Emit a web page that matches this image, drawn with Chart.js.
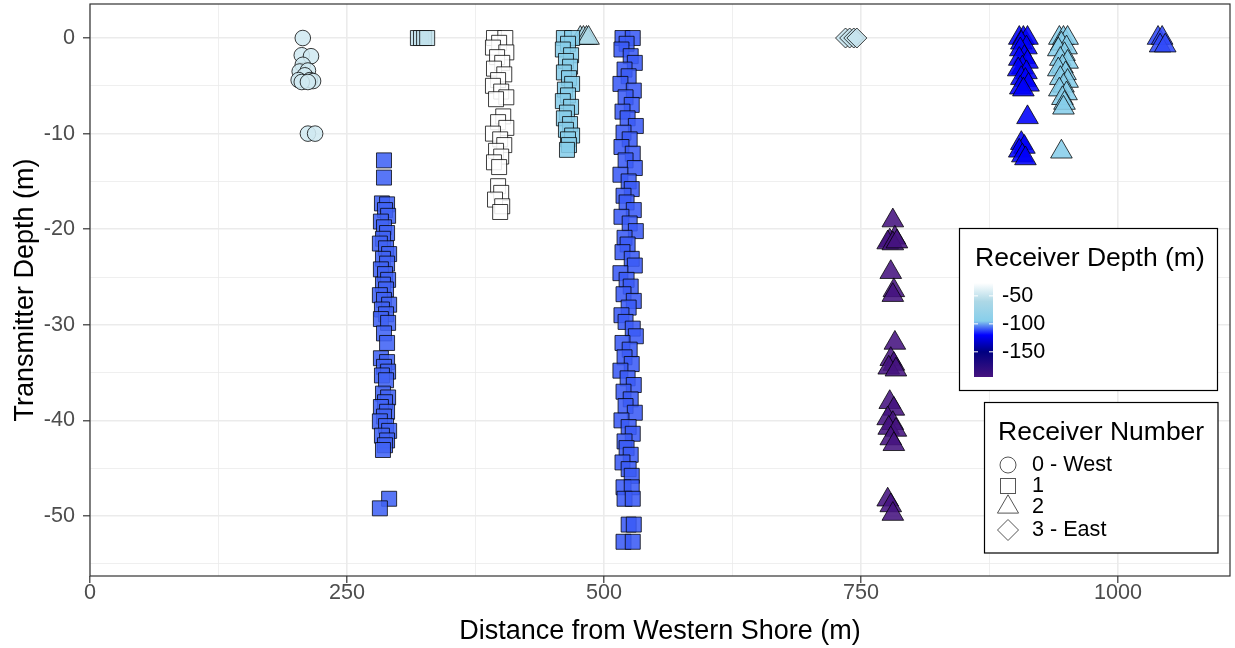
<!DOCTYPE html>
<html>
<head>
<meta charset="utf-8">
<script src="https://cdn.jsdelivr.net/npm/chart.js@4.4.1/dist/chart.umd.min.js"></script>
<style>
  html, body { margin: 0; padding: 0; background: #ffffff; }
  #wrap { width: 1235px; height: 648px; }
</style>
</head>
<body>
<div id="wrap"><canvas id="c" width="1235" height="648"></canvas></div>
<script>
// ---- axis ticks and legend labels ----
const xTicks = [0, 250, 500, 750, 1000];
const xMinor = [125, 375, 625, 875];
const yTicks = [0, -10, -20, -30, -40, -50];
const yMinor = [-5, -15, -25, -35, -45, -55];
const depthTicks = [-50, -100, -150];
const depthLimits = [-195, -27];
const receiverLabels = ['0 - West', '1', '2', '3 - East'];

// ---- receiver 0 (west), circles ----
const r0aDepth = -46;
const r0aDist = [207, 206, 215, 207, 204, 212, 209, 203, 214, 217, 206, 212, 212, 219];
const r0aTx   = [0, -1.8, -1.9, -2.8, -3.5, -3.4, -3.9, -4.4, -4.4, -4.5, -4.6, -4.6, -10.0, -10.0];

// ---- receiver 1, squares ----
const r1aDepth = -52;
const r1aDist = [319, 322, 325, 328];
const r1aTx   = [0, 0, 0, 0];

const r1bDepth = -27;
const r1bDist = [393, 404, 398, 392, 405, 396, 401, 393, 403, 397, 392, 400, 405, 395, 402, 397, 405, 392, 399, 403, 395, 400, 393, 398, 397, 400, 394, 401, 399];
const r1bTx   = [0, 0, -0.5, -1.0, -1.5, -2.0, -2.6, -3.2, -3.8, -4.4, -5.0, -5.6, -6.2, -6.4, -8.2, -8.8, -9.4, -10.0, -10.6, -11.2, -11.8, -12.4, -13.0, -13.5, -15.5, -16.2, -16.9, -17.6, -18.2];

const r1cDepth = -95;
const r1cDist = [461, 469, 465, 460, 468, 463, 467, 461, 466, 469, 462, 465, 460, 468, 464, 461, 467, 463, 469, 465, 466, 464];
const r1cTx   = [0, 0, -0.6, -1.2, -1.8, -2.4, -3.0, -3.6, -4.2, -4.8, -5.4, -6.0, -6.6, -7.2, -7.8, -8.4, -9.0, -9.6, -10.2, -10.6, -11.2, -11.7];

const r1dDepth = -108;
const r1dDist = [286, 286, 284, 289, 287, 290, 283, 286, 289, 285, 282, 288, 291, 285, 289, 283, 287, 290, 285, 288, 282, 286, 291, 284, 288, 283, 290, 286, 289, 283, 289, 286, 290, 284, 288, 285, 290, 287, 283, 289, 286, 282, 288, 291, 284, 289, 287, 285, 291, 282];
const r1dTx   = [-12.8, -14.6, -17.3, -17.4, -18.0, -18.6, -19.2, -19.8, -20.4, -21.0, -21.5, -22.0, -22.6, -23.1, -23.6, -24.2, -24.7, -25.3, -25.8, -26.3, -26.9, -27.4, -27.9, -28.4, -28.9, -29.4, -29.8, -30.9, -31.9, -33.5, -33.9, -34.4, -34.9, -35.3, -35.8, -37.2, -37.6, -38.1, -38.6, -39.1, -39.6, -40.1, -40.6, -41.1, -41.6, -42.1, -42.6, -43.1, -48.2, -49.2];

const r1eDepth = -109;
const r1eDist = [518, 528, 522, 517, 526, 530, 520, 524, 516, 529, 521, 527, 518, 523, 531, 519, 525, 517, 528, 521, 530, 516, 524, 527, 519, 522, 529, 517, 525, 531, 520, 523, 518, 527, 530, 516, 522, 526, 519, 529, 524, 517, 521, 528, 531, 518, 525, 520, 527, 516, 523, 529, 519, 526, 521, 530, 517, 524, 528, 520, 522, 526, 518, 524, 527, 519, 527, 520, 528, 524, 529, 519, 528];
const r1eTx   = [0, 0, -0.6, -1.2, -1.9, -2.6, -3.3, -4.0, -4.8, -5.5, -6.2, -7.0, -7.7, -8.4, -9.2, -9.9, -10.6, -11.4, -12.1, -12.8, -13.6, -14.3, -15.0, -15.8, -16.5, -17.2, -18.0, -18.7, -19.4, -20.2, -20.9, -21.6, -22.4, -23.1, -23.8, -24.6, -25.3, -26.0, -26.8, -27.5, -28.2, -29.0, -29.7, -30.4, -31.2, -31.9, -32.6, -33.4, -34.1, -34.8, -35.6, -36.3, -37.0, -37.8, -38.5, -39.2, -40.0, -40.7, -41.4, -42.2, -42.9, -43.6, -44.4, -45.1, -45.8, -47.0, -47.0, -48.2, -48.2, -50.9, -50.9, -52.7, -52.7];

// ---- receiver 2, triangles ----
const r2aDepth = -60;
const r2aDist = [477, 480, 483, 485];
const r2aTx   = [0, 0, 0, 0];

const r2bDepth = -121;
const r2bDist = [904, 908, 912, 906, 911, 905, 909, 904, 912, 907, 903, 911, 906, 910, 913, 905, 908, 912, 906, 909, 904, 907, 910];
const r2bTx   = [0, 0, 0, -0.5, -1.0, -1.2, -2.0, -2.2, -2.5, -3.1, -3.3, -3.6, -4.2, -4.4, -4.9, -5.2, -5.4, -8.3, -11.0, -11.4, -11.8, -12.3, -12.6];

const r2cDepth = -95;
const r2cDist = [943, 947, 951, 945, 950, 942, 948, 944, 951, 946, 942, 949, 944, 951, 947, 943, 950, 946, 948, 947, 945];
const r2cTx   = [0, 0, 0, -0.6, -1.0, -1.2, -1.7, -2.2, -2.5, -3.0, -3.3, -3.7, -4.2, -4.5, -5.0, -5.4, -5.8, -6.3, -6.8, -7.3, -11.9];

const r2dDepth = -111;
const r2dDist = [1039, 1043, 1041, 1046];
const r2dTx   = [0, 0, -0.8, -0.8];

const r2eDepth = -195;
const r2eDist = [781, 783, 778, 776, 781, 785, 779, 782, 781, 783, 779, 782, 777, 784, 778, 782, 776, 781, 777, 784, 779, 782, 776, 779, 781];
const r2eTx   = [-19.1, -20.9, -21.2, -21.4, -21.5, -21.3, -24.5, -26.4, -26.9, -31.9, -33.6, -34.1, -34.5, -34.7, -38.1, -38.8, -39.8, -40.3, -40.8, -41.0, -41.9, -42.5, -48.3, -48.9, -49.8];

// ---- receiver 3 (east), diamonds ----
const r3aDepth = -50;
const r3aDist = [735, 739, 743, 746];
const r3aTx   = [0, 0, 0, 0];

// ---- colour scale for receiver depth ----
const stopValues = [-195, -150, -120, -95, -60, -27];
const stopColors = ['#46137f', '#000080', '#0000ff', '#87ceeb', '#add8e6', '#ffffff'];
const POINT_ALPHA = 0.88;

function hexRgb(h) {
  const n = parseInt(h.slice(1), 16);
  return [(n >> 16) & 255, (n >> 8) & 255, n & 255];
}
function depthRgb(v) {
  if (v <= stopValues[0]) return hexRgb(stopColors[0]);
  for (let i = 1; i < stopValues.length; i++) {
    if (v <= stopValues[i]) {
      const t = (v - stopValues[i - 1]) / (stopValues[i] - stopValues[i - 1]);
      const a = hexRgb(stopColors[i - 1]), b = hexRgb(stopColors[i]);
      return a.map((c, k) => Math.round(c + (b[k] - c) * t));
    }
  }
  return hexRgb(stopColors[stopColors.length - 1]);
}
function depthFill(v) {
  const [r, g, b] = depthRgb(v);
  return `rgba(${r},${g},${b},${POINT_ALPHA})`;
}

// shape per receiver number
const SHAPES = {
  0: { style: 'circle', radius: 7.8 },
  1: { style: 'rect', radius: 10.6 },
  2: { style: 'triangle', radius: 12.5 },
  3: { style: 'rectRot', radius: 10 }
};

// groups listed top-most first (dataset 0 is painted last)
const groups = [
  { rec: 1, dist: r1eDist, tx: r1eTx, depth: r1eDepth },
  { rec: 1, dist: r1dDist, tx: r1dTx, depth: r1dDepth },
  { rec: 1, dist: r1cDist, tx: r1cTx, depth: r1cDepth },
  { rec: 1, dist: r1bDist, tx: r1bTx, depth: r1bDepth },
  { rec: 1, dist: r1aDist, tx: r1aTx, depth: r1aDepth },
  { rec: 2, dist: r2aDist, tx: r2aTx, depth: r2aDepth },
  { rec: 0, dist: r0aDist, tx: r0aTx, depth: r0aDepth },
  { rec: 3, dist: r3aDist, tx: r3aTx, depth: r3aDepth },
  { rec: 2, dist: r2bDist, tx: r2bTx, depth: r2bDepth },
  { rec: 2, dist: r2cDist, tx: r2cTx, depth: r2cDepth },
  { rec: 2, dist: r2dDist, tx: r2dTx, depth: r2dDepth },
  { rec: 2, dist: r2eDist, tx: r2eTx, depth: r2eDepth }
];

const datasets = groups.map(g => ({
  label: receiverLabels[g.rec],
  data: g.dist.map((d, i) => ({ x: d, y: g.tx[i] })),
  pointStyle: SHAPES[g.rec].style,
  pointRadius: SHAPES[g.rec].radius,
  pointHoverRadius: SHAPES[g.rec].radius,
  backgroundColor: depthFill(g.depth),
  borderColor: 'rgba(0,0,0,0.85)',
  pointBorderWidth: 0.9,
  showLine: false
}));

const FONT = '"Liberation Sans", Arial, Helvetica, sans-serif';
Chart.defaults.font.family = FONT;

const isMinorX = v => xMinor.includes(v);
const isMinorY = v => yMinor.includes(v);

// fixed axis box sizes; no extra edge padding for the outer tick labels
function fixBox(s, size) {
  if (s.isHorizontal()) s.height = size; else s.width = size;
  s.paddingTop = 0; s.paddingBottom = 0; s.paddingLeft = 0; s.paddingRight = 0;
}

// panel frame and the two legends
const decor = {
  id: 'decor',
  afterDraw(chart) {
    const ctx = chart.ctx;
    const a = chart.chartArea;
    ctx.save();
    ctx.strokeStyle = '#333333';
    ctx.lineWidth = 1.2;
    ctx.strokeRect(a.left, a.top, a.right - a.left, a.bottom - a.top);

    // colourbar legend
    const b1 = { x: 959.5, y: 228.5, w: 258, h: 162 };
    ctx.fillStyle = '#ffffff';
    ctx.fillRect(b1.x, b1.y, b1.w, b1.h);
    ctx.strokeStyle = '#000000';
    ctx.lineWidth = 1.2;
    ctx.strokeRect(b1.x, b1.y, b1.w, b1.h);
    ctx.fillStyle = '#000000';
    ctx.font = `26.5px ${FONT}`;
    ctx.textBaseline = 'alphabetic';
    ctx.textAlign = 'left';
    ctx.fillText('Receiver Depth (m)', 975, 266);

    const bar = { x: 974, y: 283, w: 19, h: 94 };
    const span = depthLimits[1] - depthLimits[0];
    const grad = ctx.createLinearGradient(0, bar.y, 0, bar.y + bar.h);
    stopValues.forEach((v, i) => {
      grad.addColorStop((depthLimits[1] - v) / span, stopColors[i]);
    });
    ctx.fillStyle = grad;
    ctx.fillRect(bar.x, bar.y, bar.w, bar.h);
    ctx.font = `21.6px ${FONT}`;
    ctx.textBaseline = 'middle';
    depthTicks.forEach(v => {
      const y = bar.y + (depthLimits[1] - v) / span * bar.h;
      ctx.strokeStyle = '#ffffff';
      ctx.lineWidth = 1;
      ctx.beginPath();
      ctx.moveTo(bar.x, y); ctx.lineTo(bar.x + 4, y);
      ctx.moveTo(bar.x + bar.w - 4, y); ctx.lineTo(bar.x + bar.w, y);
      ctx.stroke();
      ctx.fillStyle = '#000000';
      ctx.fillText(String(v), 1002, y);
    });

    // shape legend
    const b2 = { x: 984.5, y: 402.5, w: 233.5, h: 150.5 };
    ctx.fillStyle = '#ffffff';
    ctx.fillRect(b2.x, b2.y, b2.w, b2.h);
    ctx.strokeStyle = '#000000';
    ctx.lineWidth = 1.2;
    ctx.strokeRect(b2.x, b2.y, b2.w, b2.h);
    ctx.fillStyle = '#000000';
    ctx.font = `26.5px ${FONT}`;
    ctx.textBaseline = 'alphabetic';
    ctx.fillText('Receiver Number', 998, 440);

    const keyY = [465, 486, 507, 530];
    const kx = 1008;
    ctx.strokeStyle = '#555555';
    ctx.lineWidth = 1;
    ctx.beginPath(); ctx.arc(kx, keyY[0], 8, 0, Math.PI * 2); ctx.stroke();
    ctx.strokeRect(kx - 7.5, keyY[1] - 7.5, 15, 15);
    const tr = 12.2;
    ctx.beginPath();
    ctx.moveTo(kx, keyY[2] - tr);
    ctx.lineTo(kx + tr * Math.sqrt(3) / 2, keyY[2] + tr / 2);
    ctx.lineTo(kx - tr * Math.sqrt(3) / 2, keyY[2] + tr / 2);
    ctx.closePath(); ctx.stroke();
    const dr = 10.5;
    ctx.beginPath();
    ctx.moveTo(kx, keyY[3] - dr); ctx.lineTo(kx + dr, keyY[3]);
    ctx.lineTo(kx, keyY[3] + dr); ctx.lineTo(kx - dr, keyY[3]);
    ctx.closePath(); ctx.stroke();

    ctx.fillStyle = '#000000';
    ctx.font = `21.6px ${FONT}`;
    ctx.textBaseline = 'middle';
    receiverLabels.forEach((t, i) => ctx.fillText(t, 1032, keyY[i]));
    ctx.restore();
  }
};

new Chart(document.getElementById('c'), {
  type: 'scatter',
  data: { datasets },
  options: {
    responsive: false,
    animation: false,
    events: [],
    layout: { autoPadding: false, padding: { left: 0, right: 5, top: 4, bottom: 0 } },
    plugins: { legend: { display: false }, tooltip: { enabled: false } },
    scales: {
      x: {
        type: 'linear',
        min: 0,
        max: 1109,
        afterBuildTicks: s => { s.ticks = [...xTicks, ...xMinor].sort((p, q) => p - q).map(v => ({ value: v })); },
        afterFit: s => fixBox(s, 72),
        ticks: {
          autoSkip: false,
          maxRotation: 0,
          padding: -3,
          color: '#4d4d4d',
          font: { size: 21.6 },
          callback: v => (isMinorX(v) ? '' : String(v))
        },
        grid: {
          color: '#ebebeb',
          lineWidth: c => (isMinorX(c.tick.value) ? 0.8 : 1.6),
          tickColor: c => (isMinorX(c.tick.value) ? 'rgba(0,0,0,0)' : '#333333'),
          tickLength: 7,
          tickWidth: 1.2
        },
        border: { display: false },
        title: {
          display: true,
          text: 'Distance from Western Shore (m)',
          color: '#000000',
          font: { size: 27 },
          padding: { top: 0, bottom: 0 }
        }
      },
      y: {
        type: 'linear',
        min: -56.28,
        max: 3.56,
        afterBuildTicks: s => { s.ticks = [...yTicks, ...yMinor].sort((p, q) => p - q).map(v => ({ value: v })); },
        afterFit: s => fixBox(s, 90),
        ticks: {
          autoSkip: false,
          padding: 8,
          color: '#4d4d4d',
          font: { size: 21.6 },
          callback: v => (isMinorY(v) ? '' : String(v))
        },
        grid: {
          color: '#ebebeb',
          lineWidth: c => (isMinorY(c.tick.value) ? 0.8 : 1.6),
          tickColor: c => (isMinorY(c.tick.value) ? 'rgba(0,0,0,0)' : '#333333'),
          tickLength: 7,
          tickWidth: 1.2
        },
        border: { display: false },
        title: {
          display: true,
          text: 'Transmitter Depth (m)',
          color: '#000000',
          font: { size: 27 },
          padding: { top: 9, bottom: 0 }
        }
      }
    }
  },
  plugins: [decor]
});
</script>
</body>
</html>
